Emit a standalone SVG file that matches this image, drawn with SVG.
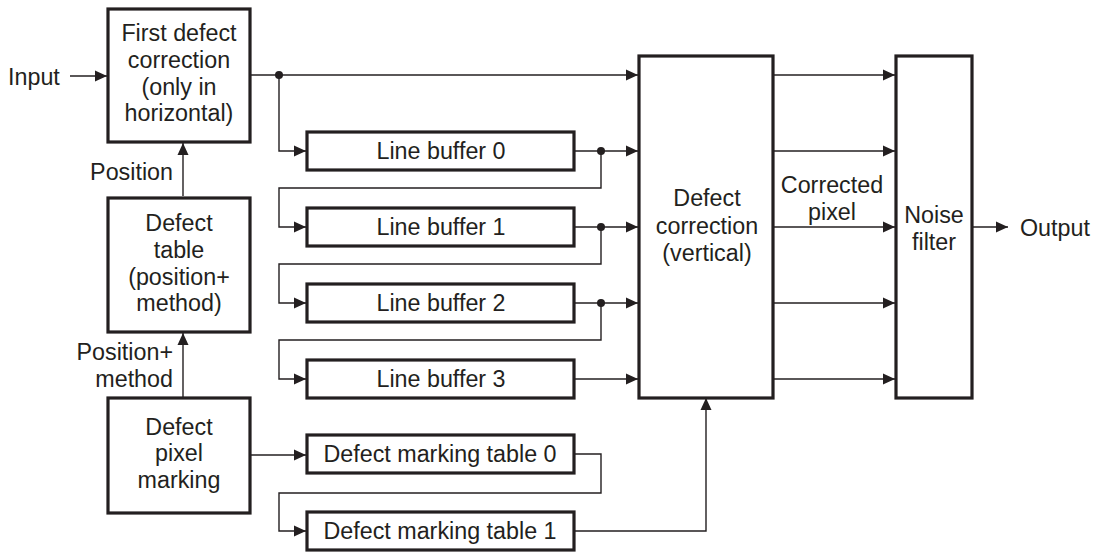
<svg xmlns="http://www.w3.org/2000/svg" width="1095" height="552" viewBox="0 0 1095 552">
<style>
text{font-family:"Liberation Sans",Arial,sans-serif;font-size:23.3px;fill:#231f20}
.c{text-anchor:middle}
.e{text-anchor:end}
.box{fill:#fff;stroke:#231f20;stroke-width:3.2}
.ln{fill:none;stroke:#231f20;stroke-width:1.4}
.dot{fill:#231f20}
</style>
<defs>
<marker id="ah" viewBox="0 0 12 12" refX="12" refY="6" markerWidth="12" markerHeight="12" markerUnits="userSpaceOnUse" orient="auto">
<path d="M0,0.5 L12,6 L0,11.5 Z" fill="#231f20"/>
</marker>
</defs>
<g id="connectors">
<path class="ln" d="M70,76 H107" marker-end="url(#ah)"/>
<path class="ln" d="M251,75 H638" marker-end="url(#ah)"/>
<path class="ln" d="M279,75 V151 H306" marker-end="url(#ah)"/>
<path class="ln" d="M574,151 H638" marker-end="url(#ah)"/>
<path class="ln" d="M601,151 V188 H279 V227 H306" marker-end="url(#ah)"/>
<path class="ln" d="M574,227 H638" marker-end="url(#ah)"/>
<path class="ln" d="M601,227 V264 H279 V303 H306" marker-end="url(#ah)"/>
<path class="ln" d="M574,303 H638" marker-end="url(#ah)"/>
<path class="ln" d="M601,303 V340 H279 V379 H306" marker-end="url(#ah)"/>
<path class="ln" d="M574,379 H638" marker-end="url(#ah)"/>
<path class="ln" d="M183,196 V143" marker-end="url(#ah)"/>
<path class="ln" d="M183,397 V333" marker-end="url(#ah)"/>
<path class="ln" d="M251,455 H306" marker-end="url(#ah)"/>
<path class="ln" d="M574,454 H601 V493 H279 V531 H306" marker-end="url(#ah)"/>
<path class="ln" d="M574,531 H706 V398" marker-end="url(#ah)"/>
<path class="ln" d="M773,75 H895" marker-end="url(#ah)"/>
<path class="ln" d="M773,151 H895" marker-end="url(#ah)"/>
<path class="ln" d="M773,227 H895" marker-end="url(#ah)"/>
<path class="ln" d="M773,303 H895" marker-end="url(#ah)"/>
<path class="ln" d="M773,379 H895" marker-end="url(#ah)"/>
<path class="ln" d="M972,227 H1008" marker-end="url(#ah)"/>
<circle class="dot" cx="279" cy="75" r="4"/>
<circle class="dot" cx="601" cy="151" r="4"/>
<circle class="dot" cx="601" cy="227" r="4"/>
<circle class="dot" cx="601" cy="303" r="4"/>
<text x="8" y="85">Input</text>
<text x="1020" y="236">Output</text>
<text class="e" x="173" y="180">Position</text>
<text class="e" x="173" y="360">Position+</text>
<text class="e" x="173" y="387">method</text>
<text class="c" x="832" y="193">Corrected</text>
<text class="c" x="832" y="220">pixel</text>
</g>
<g id="first-defect-correction">
<rect class="box" x="108" y="9" width="142" height="133"/>
<text class="c" x="179" y="41">First defect</text>
<text class="c" x="179" y="68">correction</text>
<text class="c" x="179" y="95">(only in</text>
<text class="c" x="179" y="121">horizontal)</text>
</g>
<g id="defect-table">
<rect class="box" x="108" y="198" width="142" height="134"/>
<text class="c" x="179" y="231">Defect</text>
<text class="c" x="179" y="258">table</text>
<text class="c" x="179" y="285">(position+</text>
<text class="c" x="179" y="311">method)</text>
</g>
<g id="defect-pixel-marking">
<rect class="box" x="108" y="398" width="142" height="115"/>
<text class="c" x="179" y="435">Defect</text>
<text class="c" x="179" y="461">pixel</text>
<text class="c" x="179" y="488">marking</text>
</g>
<g id="line-buffer-0">
<rect class="box" x="307" y="132" width="267" height="38"/>
<text class="c" x="441" y="159">Line buffer 0</text>
</g>
<g id="line-buffer-1">
<rect class="box" x="307" y="208" width="267" height="38"/>
<text class="c" x="441" y="235">Line buffer 1</text>
</g>
<g id="line-buffer-2">
<rect class="box" x="307" y="284" width="267" height="38"/>
<text class="c" x="441" y="311">Line buffer 2</text>
</g>
<g id="line-buffer-3">
<rect class="box" x="307" y="360" width="267" height="38"/>
<text class="c" x="441" y="387">Line buffer 3</text>
</g>
<g id="defect-marking-table-0">
<rect class="box" x="307" y="435" width="267" height="38"/>
<text class="c" x="440" y="462">Defect marking table 0</text>
</g>
<g id="defect-marking-table-1">
<rect class="box" x="307" y="512" width="267" height="38"/>
<text class="c" x="440" y="539">Defect marking table 1</text>
</g>
<g id="defect-correction-vertical">
<rect class="box" x="639" y="56" width="134" height="342"/>
<text class="c" x="707" y="206">Defect</text>
<text class="c" x="707" y="234">correction</text>
<text class="c" x="707" y="261">(vertical)</text>
</g>
<g id="noise-filter">
<rect class="box" x="896" y="56" width="76" height="342"/>
<text class="c" x="934" y="223">Noise</text>
<text class="c" x="934" y="250">filter</text>
</g>
</svg>
